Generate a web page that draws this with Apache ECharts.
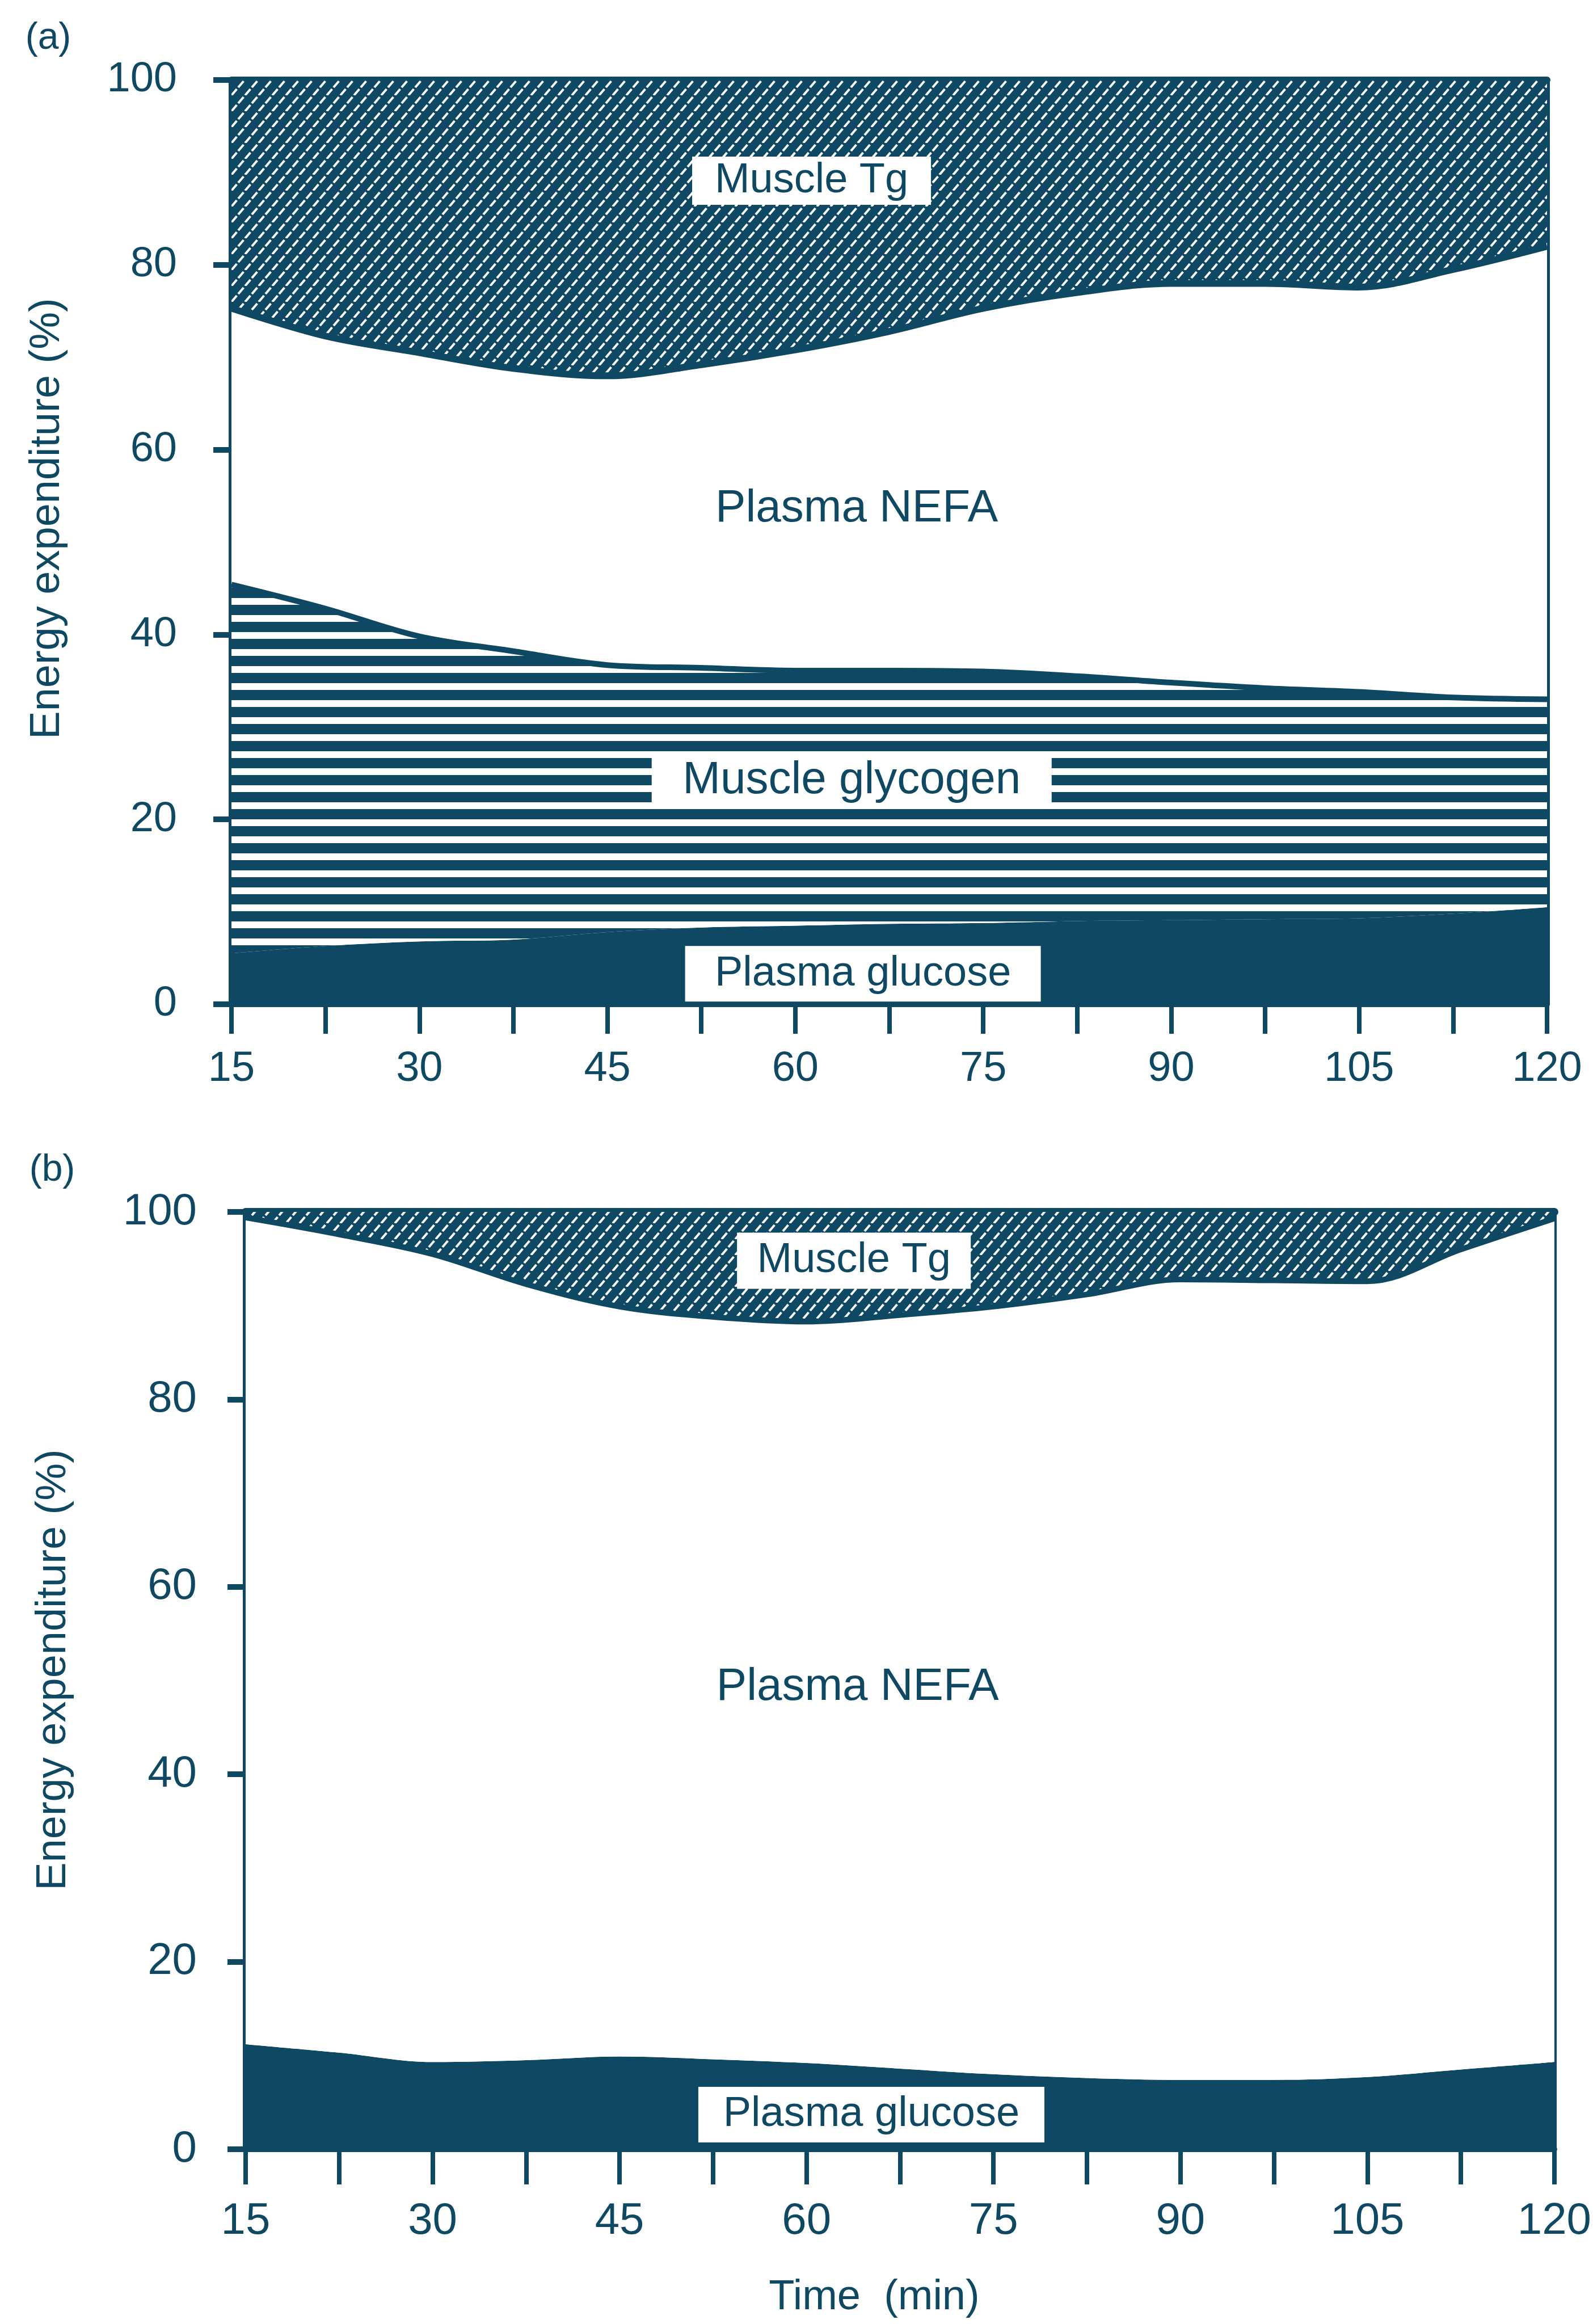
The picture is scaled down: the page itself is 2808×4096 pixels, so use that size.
<!DOCTYPE html>
<html><head><meta charset="utf-8">
<script src="https://cdn.jsdelivr.net/npm/echarts@6/dist/echarts.min.js"></script>
<style>html,body{margin:0;padding:0;background:#fff}#c{width:2808px;height:4096px}</style>
</head><body><div id="c"></div><script>
// ---- data ----
const TIME = [15, 22.5, 30, 37.5, 45, 52.5, 60, 67.5, 75, 82.5, 90, 97.5, 105, 112.5, 120];
const X_TICK_LABELS = [15, 30, 45, 60, 75, 90, 105, 120];
const Y_TICK_LABELS = [0, 20, 40, 60, 80, 100];
// panel (a): share of energy expenditure (%)
const A_GLUCOSE  = [5.5, 6.3, 6.8, 7.0, 7.8, 8.3, 8.5, 8.7, 8.8, 9.0, 9.1, 9.2, 9.3, 9.8, 10.5];
const A_GLYCOGEN = [39.9, 36.5, 33.0, 31.2, 28.9, 28.1, 27.6, 27.4, 27.2, 26.5, 25.7, 25.0, 24.5, 23.4, 22.5];
const A_NEFA     = [29.9, 29.5, 30.7, 30.6, 31.3, 32.8, 34.7, 36.7, 39.3, 41.5, 43.2, 43.8, 43.8, 46.3, 49.0];
const A_TG       = [24.7, 27.7, 29.5, 31.2, 32.0, 30.8, 29.2, 27.2, 24.7, 23.0, 22.0, 22.0, 22.4, 20.5, 18.0];
// panel (b)
const B_GLUCOSE  = [11.2, 10.3, 9.3, 9.5, 9.9, 9.6, 9.2, 8.6, 8.0, 7.6, 7.4, 7.4, 7.7, 8.5, 9.3];
const B_NEFA     = [88.2, 87.3, 86.2, 82.8, 80.0, 79.2, 79.1, 80.4, 81.9, 83.6, 85.4, 85.3, 84.9, 87.5, 90.0];
const B_TG       = [0.6, 2.4, 4.5, 7.7, 10.1, 11.2, 11.7, 11.0, 10.1, 8.8, 7.2, 7.3, 7.4, 4.0, 0.7];

// ---- styling ----
const INK = '#0e4862';
const TXT = "'Liberation Sans', Arial, sans-serif";
const NUM = "'Liberation Sans', Arial, sans-serif";

function hatch() {
  const w = 24, h = 28;
  const c = document.createElement('canvas'); c.width = w; c.height = h;
  const g = c.getContext('2d');
  g.fillStyle = INK; g.fillRect(0, 0, w, h);
  g.strokeStyle = '#ffffff'; g.lineWidth = 4;
  const L = Math.sqrt(w * w + h * h);
  g.setLineDash([L / 2 - 4, 4]);
  for (const dx of [-w, 0, w]) { g.beginPath(); g.moveTo(dx, h); g.lineTo(dx + w, 0); g.stroke(); }
  return c;
}
function stripes() {
  const w = 10, h = 30;
  const c = document.createElement('canvas'); c.width = w; c.height = h;
  const g = c.getContext('2d');
  g.fillStyle = INK; g.fillRect(0, 0, w, h);
  g.fillStyle = '#ffffff'; g.fillRect(0, 4, w, 12);
  return c;
}
const HATCH = { image: hatch(), repeat: 'repeat' };
const STRIPES = { image: stripes(), repeat: 'repeat' };

const grids = [
  { left: 408, top: 141, width: 2319, height: 1629 },
  { left: 433, top: 2136, width: 2341, height: 1652 }
];

function xAxisFor(gi, tickLen, fs, margin) {
  return {
    type: 'category', gridIndex: gi, data: TIME.map(String), boundaryGap: false,
    axisLine: { show: true, lineStyle: { color: INK, width: 10 } },
    axisTick: { show: true, inside: false, interval: 0, length: tickLen, lineStyle: { color: INK, width: 8 } },
    axisLabel: {
      show: true, interval: 0, margin: margin, color: INK, fontSize: fs, fontFamily: NUM,
      formatter: v => (X_TICK_LABELS.indexOf(Number(v)) >= 0 ? v : '')
    },
    splitLine: { show: false }
  };
}
function xTopFor(gi, w) {
  return {
    type: 'value', gridIndex: gi, position: 'top', min: TIME[0], max: TIME[TIME.length - 1],
    axisLine: { show: true, onZero: false, lineStyle: { color: INK, width: w } },
    axisTick: { show: false }, axisLabel: { show: false }, splitLine: { show: false }
  };
}
function yAxisFor(gi, margin, fs, lw) {
  return {
    type: 'value', gridIndex: gi, min: 0, max: 100, interval: 20,
    axisLine: { show: true, onZero: false, lineStyle: { color: INK, width: lw } },
    axisTick: { show: true, inside: false, length: 32, lineStyle: { color: INK, width: 10 } },
    axisLabel: {
      show: true, margin: margin, color: INK, fontSize: fs, fontFamily: NUM,
      formatter: v => (Y_TICK_LABELS.indexOf(v) >= 0 ? String(v) : '')
    },
    splitLine: { show: false }
  };
}
function yRightFor(gi, w) {
  return {
    type: 'value', gridIndex: gi, position: 'right', min: 0, max: 100,
    axisLine: { show: true, onZero: false, lineStyle: { color: INK, width: w } },
    axisTick: { show: false }, axisLabel: { show: false }, splitLine: { show: false }
  };
}

function area(name, gi, stack, data, fill, lineW, z) {
  return {
    name, type: 'line', xAxisIndex: gi * 2, yAxisIndex: gi * 2, stack, data: data,
    smooth: 0.35, symbol: 'none', z,
    lineStyle: { color: INK, width: lineW },
    areaStyle: { color: fill, opacity: 1 },
    silent: true, animation: false
  };
}

const chart = echarts.init(document.getElementById('c'), null, { renderer: 'canvas' });
chart.setOption({
  animation: false,
  backgroundColor: '#ffffff',
  grid: grids,
  xAxis: [xAxisFor(0, 52, 74, 78), xTopFor(0, 12), xAxisFor(1, 62, 78, 88), xTopFor(1, 14)],
  yAxis: [yAxisFor(0, 96, 74, 11), yRightFor(0, 9), yAxisFor(1, 86, 78, 11), yRightFor(1, 8)],
  series: [
    area('Plasma glucose', 0, 'a', A_GLUCOSE, INK, 0, 1),
    area('Muscle glycogen', 0, 'a', A_GLYCOGEN, STRIPES, 10, 4),
    area('Plasma NEFA', 0, 'a', A_NEFA, '#ffffff', 12, 3),
    area('Muscle Tg', 0, 'a', A_TG, HATCH, 0, 2),
    area('Plasma glucose', 1, 'b', B_GLUCOSE, INK, 0, 1),
    area('Plasma NEFA', 1, 'b', B_NEFA, '#ffffff', 10, 3),
    area('Muscle Tg', 1, 'b', B_TG, HATCH, 0, 2)
  ]
});

// ---- in-chart labels, placed through the axes' scales (top value axis + y axis) ----
const LABELS = [
  { grid: 0, text: 'Muscle Tg',       at: [61.3, 89.1], box: [421, 85],  size: 74 },
  { grid: 0, text: 'Plasma NEFA',     at: [64.9, 53.6], box: null,       size: 80 },
  { grid: 0, text: 'Muscle glycogen', at: [64.5, 24.2], box: [705, 100], size: 80 },
  { grid: 0, text: 'Plasma glucose',  at: [65.4, 3.3],  box: [627, 98],  size: 74 },
  { grid: 1, text: 'Muscle Tg',       at: [63.8, 94.8], box: [412, 99],  size: 74 },
  { grid: 1, text: 'Plasma NEFA',     at: [64.1, 49.3], box: null,       size: 80 },
  { grid: 1, text: 'Plasma glucose',  at: [65.2, 3.7],  box: [610, 98],  size: 74 }
];
const g = [];
LABELS.forEach(L => {
  const p = chart.convertToPixel({ xAxisIndex: L.grid * 2 + 1, yAxisIndex: L.grid * 2 }, L.at);
  if (L.box) {
    g.push({ type: 'rect', z: 100, shape: { x: p[0] - L.box[0] / 2, y: p[1] - L.box[1] / 2, width: L.box[0], height: L.box[1] }, style: { fill: '#ffffff' } });
  }
  g.push({ type: 'text', z: 101, x: p[0], y: p[1], style: { text: L.text, fontSize: L.size, fontFamily: TXT, fill: INK, align: 'center', verticalAlign: 'middle' } });
});
// panel letters and axis titles
g.push({ type: 'text', z: 101, x: 85, y: 68, style: { text: '(a)', fontSize: 66, fontFamily: TXT, fill: INK, align: 'center', verticalAlign: 'middle' } });
g.push({ type: 'text', z: 101, x: 92, y: 2063, style: { text: '(b)', fontSize: 66, fontFamily: TXT, fill: INK, align: 'center', verticalAlign: 'middle' } });
g.push({ type: 'text', z: 101, x: 84, y: 914, rotation: Math.PI / 2, style: { text: 'Energy expenditure (%)', fontSize: 74, fontFamily: TXT, fill: INK, align: 'center', verticalAlign: 'middle' } });
g.push({ type: 'text', z: 101, x: 95, y: 2943, rotation: Math.PI / 2, style: { text: 'Energy expenditure (%)', fontSize: 74, fontFamily: TXT, fill: INK, align: 'center', verticalAlign: 'middle' } });
g.push({ type: 'text', z: 101, x: 1541, y: 4050, style: { text: 'Time  (min)', fontSize: 74, fontFamily: TXT, fill: INK, align: 'center', verticalAlign: 'middle' } });
chart.setOption({ graphic: g });
</script></body></html>
